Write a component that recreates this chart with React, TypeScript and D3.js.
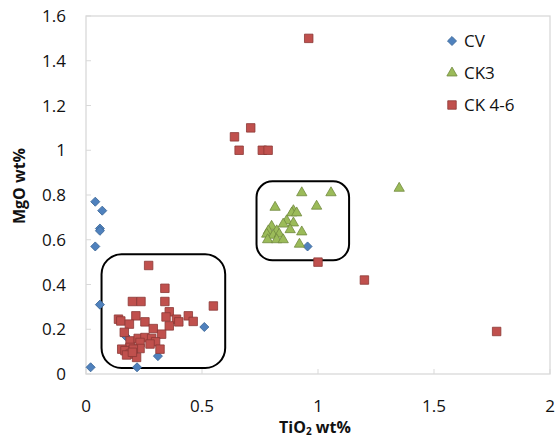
import React from 'react';
import * as d3 from 'd3';

const width = 556;
const height = 439;

// CV (blue diamonds)
const cvTiO2 = [0.02, 0.04, 0.07, 0.06, 0.06, 0.04, 0.06, 0.51, 0.31, 0.22, 0.17, 0.955];
const cvMgO = [0.03, 0.77, 0.73, 0.65, 0.64, 0.57, 0.31, 0.21, 0.08, 0.03, 0.17, 0.57];

// CK3 (green triangles)
const ck3TiO2 = [0.93, 1.056, 0.994, 0.815, 0.894, 0.887, 0.908, 0.865, 0.894, 0.80, 0.85, 0.88,
  0.786, 0.822, 0.93, 0.779, 0.807, 0.833, 0.783, 0.822, 0.85, 0.92, 1.35];
const ck3MgO = [0.81, 0.81, 0.75, 0.745, 0.73, 0.72, 0.72, 0.685, 0.675, 0.66, 0.67, 0.645,
  0.64, 0.64, 0.635, 0.625, 0.62, 0.625, 0.60, 0.60, 0.60, 0.58, 0.83];

// CK 4-6 (red squares)
const ck46TiO2 = [0.96, 0.71, 0.64, 0.66, 0.76, 0.785, 1.0, 1.20, 1.77,
  0.27, 0.34, 0.20, 0.237, 0.34, 0.549, 0.359, 0.345, 0.441, 0.39, 0.40, 0.462,
  0.215, 0.14, 0.15, 0.187, 0.254, 0.359, 0.29, 0.165, 0.326, 0.19, 0.225, 0.254,
  0.283, 0.30, 0.233, 0.276, 0.19, 0.233, 0.319, 0.154, 0.168, 0.204, 0.19, 0.218,
  0.175, 0.20];
const ck46MgO = [1.50, 1.10, 1.06, 1.0, 1.0, 1.0, 0.50, 0.42, 0.19,
  0.485, 0.383, 0.324, 0.324, 0.324, 0.304, 0.278, 0.255, 0.26, 0.245, 0.233, 0.235,
  0.26, 0.245, 0.237, 0.223, 0.233, 0.215, 0.203, 0.186, 0.178, 0.148, 0.159, 0.163,
  0.159, 0.144, 0.141, 0.134, 0.119, 0.114, 0.111, 0.111, 0.104, 0.111, 0.089, 0.074,
  0.085, 0.097];

// annotation boxes [x0, x1, y0, y1] in data units
const boxLow = [0.067, 0.60, 0.535, 0.027];
const boxHigh = [0.735, 1.134, 0.861, 0.508];

const xTicks = [0, 0.5, 1, 1.5, 2];
const yTicks = [0, 0.2, 0.4, 0.6, 0.8, 1, 1.2, 1.4, 1.6];

const seriesNames = ['CV', 'CK3', 'CK 4-6'];

const font = '"Open Sans", sans-serif';

const x = d3.scaleLinear().domain([0, 2]).range([86, 550]);
const y = d3.scaleLinear().domain([0, 1.6]).range([374, 16]);

const diamond = d3.symbol(d3.symbolSquare, 41)();
const triangle = d3.symbol(d3.symbolTriangle, 46)();
const square = d3.symbol(d3.symbolSquare, 72)();

const styles = [
  { path: diamond, rot: 45, fill: '#4F81BD', stroke: '#3A6596' },
  { path: triangle, rot: 0, fill: '#9BBB59', stroke: '#71893F' },
  { path: square, rot: 0, fill: '#C0504D', stroke: '#8C3836' },
];

const series = [
  { xs: cvTiO2, ys: cvMgO },
  { xs: ck3TiO2, ys: ck3MgO },
  { xs: ck46TiO2, ys: ck46MgO },
];

const Box = ({ b, r }: { b: number[]; r: number }) => (
  <rect x={x(b[0])} y={y(b[2])} width={x(b[1]) - x(b[0])} height={y(b[3]) - y(b[2])}
    rx={r} ry={r} fill="none" stroke="#000" strokeWidth={2} />
);

export default function App() {
  return (
    <svg width={width} height={height} style={{ position: 'absolute', left: 0, top: 0, background: '#fff' }}>
      <rect x={x(0)} y={y(1.6)} width={x(2) - x(0)} height={y(0) - y(1.6)} fill="none" stroke="#d9d9d9" strokeWidth={1.3} />
      {yTicks.map(t => (
        <g key={'y' + t}>
          <line x1={x(0)} x2={x(0) + 5} y1={y(t)} y2={y(t)} stroke="#d9d9d9" />
          <text x={66} y={y(t) + 6} textAnchor="end" fontFamily={font} fontSize={17} fill="#111">{t}</text>
        </g>
      ))}
      {xTicks.map(t => (
        <g key={'x' + t}>
          <line x1={x(t)} x2={x(t)} y1={y(0)} y2={y(0) - 5} stroke="#d9d9d9" />
          <text x={x(t)} y={412} textAnchor="middle" fontFamily={font} fontSize={17} fill="#111">{t}</text>
        </g>
      ))}
      <text x={315} y={433} textAnchor="middle" fontFamily={font} fontSize={16} fontWeight="bold" fill="#111">
        TiO<tspan fontSize={10} dy={2}>2</tspan><tspan dy={-2}> wt%</tspan>
      </text>
      <text transform="translate(25,186) rotate(-90)" textAnchor="middle" fontFamily={font} fontSize={16} fontWeight="bold" fill="#111">MgO wt%</text>

      <Box b={boxLow} r={20} />
      <Box b={boxHigh} r={16} />

      {series.map((s, i) => (
        <g key={i}>
          {s.xs.map((v, j) => (
            <path key={j} d={styles[i].path} transform={`translate(${x(v)},${y(s.ys[j])}) rotate(${styles[i].rot})`}
              fill={styles[i].fill} stroke={styles[i].stroke} strokeWidth={0.8} />
          ))}
        </g>
      ))}

      {seriesNames.map((n, i) => (
        <g key={n} transform={`translate(452,${41 + i * 32})`}>
          <path d={styles[i].path} transform={`rotate(${styles[i].rot})`} fill={styles[i].fill} stroke={styles[i].stroke} strokeWidth={0.8} />
          <text x={12} y={6} fontFamily={font} fontSize={17} fill="#111">{n}</text>
        </g>
      ))}
    </svg>
  );
}
